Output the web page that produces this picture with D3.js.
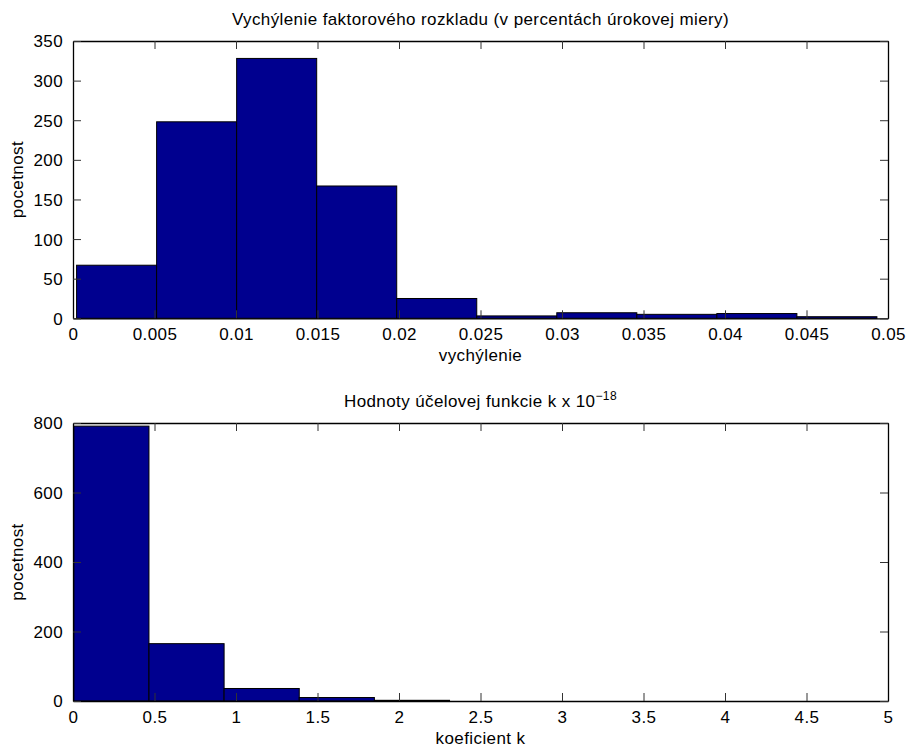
<!DOCTYPE html>
<html><head><meta charset="utf-8">
<script src="https://cdn.jsdelivr.net/npm/d3@7"></script>
<style>body{margin:0;background:#fff}svg{display:block}text{font-family:"Liberation Sans",Arial,Helvetica,sans-serif;fill:#000;letter-spacing:0.4px}</style>
</head><body>
<svg id="c" width="906" height="749"></svg>
<script>
// Top histogram: bin edges and counts
const topEdges = [0.00022,0.00513,0.01004,0.01495,0.01986,0.02477,0.02968,0.03459,0.0395,0.04441,0.04932];
const topCounts = [67,248,328,167,25,3,7,5,6,2];
const topXTicks = [0,0.005,0.01,0.015,0.02,0.025,0.03,0.035,0.04,0.045,0.05];
const topYTicks = [0,50,100,150,200,250,300,350];
// Bottom histogram
const botEdges = [0.005,0.466,0.927,1.388,1.849,2.31,2.771,3.232,3.693,4.154,4.615];
const botCounts = [791,165,36,10,2,0,0,0,0,0];
const botXTicks = [0,0.5,1,1.5,2,2.5,3,3.5,4,4.5,5];
const botYTicks = [0,200,400,600,800];

const svg = d3.select("#c");
const FS = 17;

function panel(o){
  const g = svg.append("g");
  const x = d3.scaleLinear().domain(o.xd).range([73,888]);
  const y = d3.scaleLinear().domain(o.yd).range([o.y1,o.y0]);
  const bins = o.counts.map((c,i)=>({x0:o.edges[i],x1:o.edges[i+1],c}));
  g.selectAll("rect.bar").data(bins).enter().append("rect")
    .attr("x",d=>x(d.x0)).attr("width",d=>x(d.x1)-x(d.x0))
    .attr("y",d=>y(d.c)).attr("height",d=>y(0)-y(d.c))
    .attr("fill","#00008f").attr("stroke","#000").attr("stroke-width",1);
  const ax = d3.axisBottom(x).tickValues(o.xt).tickFormat(d3.format("")).tickSizeInner(-8).tickSizeOuter(0).tickPadding(10);
  const gx = g.append("g").attr("transform",`translate(0,${o.y1})`).call(ax);
  const axT = d3.axisTop(x).tickValues(o.xt).tickFormat("").tickSizeInner(-8).tickSizeOuter(0);
  const gxt = g.append("g").attr("transform",`translate(0,${o.y0})`).call(axT);
  const ay = d3.axisLeft(y).tickValues(o.yt).tickFormat(d3.format("")).tickSizeInner(-8).tickSizeOuter(0).tickPadding(10);
  const gy = g.append("g").attr("transform",`translate(73,0)`).call(ay);
  const ayR = d3.axisRight(y).tickValues(o.yt).tickFormat("").tickSizeInner(-8).tickSizeOuter(0);
  const gyr = g.append("g").attr("transform",`translate(888,0)`).call(ayR);
  [gx,gxt,gy,gyr].forEach(a=>{
    a.select(".domain").attr("stroke","#000").attr("stroke-width",1.3);
    a.selectAll(".tick line").attr("stroke","#333");
    a.selectAll("text").style("font-size",FS+"px").style("font-family","Liberation Sans, Arial, sans-serif").attr("fill","#000");
  });
  gy.selectAll(".tick text").attr("dy","0.35em");
  const cx = (73+888)/2;
  const t = g.append("text").attr("x",cx).attr("y",o.y0-16).attr("text-anchor","middle").style("font-size",FS+"px");
  t.text(o.title);
  if(o.sup){ t.append("tspan").text(o.sup).attr("dy","-0.55em").style("font-size","12px"); }
  g.append("text").attr("x",cx).attr("y",o.y1+43).attr("text-anchor","middle").style("font-size",FS+"px").text(o.xlabel);
  g.append("text").attr("transform",`translate(23,${(o.y0+o.y1)/2}) rotate(-90)`).attr("text-anchor","middle").style("font-size",FS+"px").text("pocetnost");
}

panel({xd:[0,0.05],yd:[0,350],y0:41,y1:318.3,edges:topEdges,counts:topCounts,xt:topXTicks,yt:topYTicks,
  title:"Vychýlenie faktorového rozkladu (v percentách úrokovej miery)",xlabel:"vychýlenie"});
panel({xd:[0,5],yd:[0,800],y0:423,y1:701,edges:botEdges,counts:botCounts,xt:botXTicks,yt:botYTicks,
  title:"Hodnoty účelovej funkcie k x 10",sup:"−18",xlabel:"koeficient k"});
</script>
</body></html>
